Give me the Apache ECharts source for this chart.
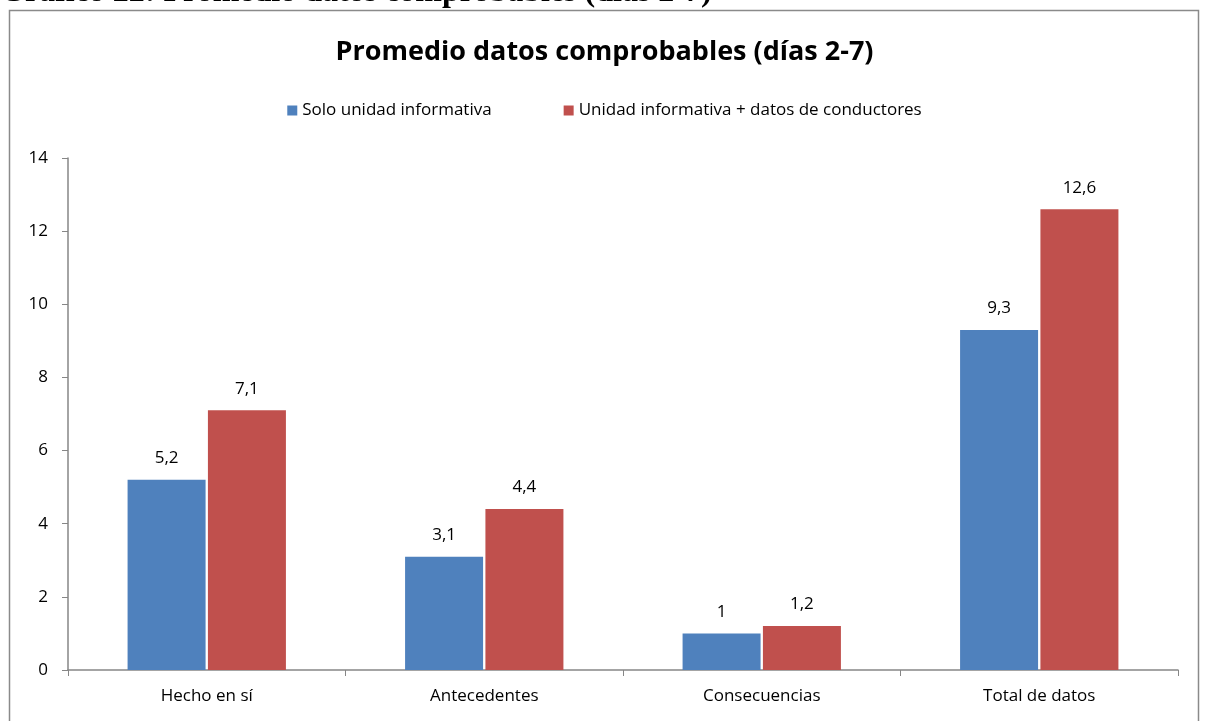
<!DOCTYPE html>
<html>
<head>
<meta charset="utf-8">
<script src="https://cdn.jsdelivr.net/npm/echarts@6/dist/echarts.min.js"></script>
<style>
  html, body { margin: 0; padding: 0; background: #fff; }
  #chart { width: 1209px; height: 721px; }
</style>
</head>
<body>
<div id="chart"></div>
<script>
const categories = ['Hecho en sí', 'Antecedentes', 'Consecuencias', 'Total de datos'];
const soloUnidad = [5.2, 3.1, 1, 9.3];
const unidadConductores = [7.1, 4.4, 1.2, 12.6];
const seriesNames = ['Solo unidad informativa', 'Unidad informativa + datos de conductores'];

const FONT = 'Open Sans';
const comma = (p) => String(p.value).replace('.', ',');

const chart = echarts.init(document.getElementById('chart'));

chart.setOption({
  animation: false,
  textStyle: { fontFamily: FONT, color: '#000' },
  graphic: [
    {
      // document heading above the chart box, mostly cut off at the top edge
      type: 'text', x: 0, y: 9,
      style: {
        text: 'Gráfico 22: Promedio datos comprobables (días 2-7)',
        font: 'bold 32px "Liberation Serif"', fill: '#000', verticalAlign: 'bottom'
      }
    },
    {
      type: 'rect', shape: { x: 9.5, y: 10.5, width: 1189, height: 730 },
      style: { fill: 'none', stroke: '#8a8a8a', lineWidth: 1.5 }
    }
  ],
  title: {
    text: 'Promedio datos comprobables (días 2-7)',
    left: 'center',
    top: 34,
    textStyle: { fontFamily: FONT, fontSize: 27, fontWeight: 'bold', color: '#000' }
  },
  legend: {
    top: 97,
    left: 'center',
    itemWidth: 10,
    itemHeight: 10,
    itemGap: 72,
    icon: 'rect',
    textStyle: { fontFamily: FONT, fontSize: 17, color: '#000' },
    data: seriesNames
  },
  grid: { left: 68, right: 31, top: 158, bottom: 51 },
  xAxis: {
    type: 'category',
    data: categories,
    axisLine: { lineStyle: { color: '#868686', width: 1.5 } },
    axisTick: { show: true, length: 6, interval: 0, lineStyle: { color: '#868686' } },
    axisLabel: { fontSize: 17, color: '#000', margin: 18, fontFamily: FONT }
  },
  yAxis: {
    type: 'value',
    min: 0,
    max: 14,
    interval: 2,
    splitLine: { show: false },
    axisLine: { show: true, lineStyle: { color: '#868686', width: 1.5 } },
    axisTick: { show: true, length: 6, lineStyle: { color: '#868686' } },
    axisLabel: { fontSize: 17, color: '#000', margin: 20, fontFamily: FONT }
  },
  series: [
    {
      name: seriesNames[0], type: 'bar', data: soloUnidad,
      barWidth: 78, barGap: '3%',
      itemStyle: { color: '#4F81BD' },
      label: { show: true, position: 'top', distance: 13, fontSize: 17, color: '#000', fontFamily: FONT, formatter: comma }
    },
    {
      name: seriesNames[1], type: 'bar', data: unidadConductores,
      barWidth: 78,
      itemStyle: { color: '#C0504D' },
      label: { show: true, position: 'top', distance: 13, fontSize: 17, color: '#000', fontFamily: FONT, formatter: comma }
    }
  ]
});
</script>
</body>
</html>
